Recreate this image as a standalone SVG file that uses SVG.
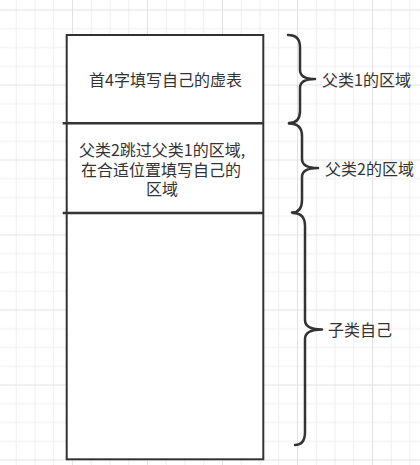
<svg xmlns="http://www.w3.org/2000/svg" width="420" height="465" viewBox="0 0 420 465">
  <defs>
    <pattern id="grid" patternUnits="userSpaceOnUse" x="72" y="9.5" width="75" height="75">
      <rect x="0" y="0" width="75" height="75" fill="#ffffff"/>
      <g fill="#f0f0f0">
        <rect x="18.75" y="0" width="1" height="75"/>
        <rect x="37.5" y="0" width="1" height="75"/>
        <rect x="56.25" y="0" width="1" height="75"/>
        <rect x="0" y="18.75" width="75" height="1"/>
        <rect x="0" y="37.5" width="75" height="1"/>
        <rect x="0" y="56.25" width="75" height="1"/>
      </g>
      <g fill="#e2e2e2">
        <rect x="0" y="0" width="1" height="75"/>
        <rect x="0" y="0" width="75" height="1"/>
      </g>
    </pattern>
  </defs>
  <style>
    .box { fill: #ffffff; stroke: #333333; stroke-width: 2; }
    .div { stroke: #333333; stroke-width: 2.6; fill: none; }
    .brace { fill: none; stroke: #333333; stroke-width: 2.5; stroke-linecap: round; stroke-linejoin: round; }
    .t { font-family: "Noto Sans CJK SC", "Noto Sans", sans-serif; font-size: 16px; fill: #333333; }
    .c { text-anchor: middle; }
  </style>
  <rect x="0" y="0" width="420" height="465" fill="url(#grid)"/>

  <g id="memory-block">
    <rect class="box" x="66.7" y="35" width="196.6" height="424.3"/>
  </g>

  <g id="connectors">
    <line class="div" x1="62.7" y1="123.3" x2="263" y2="123.3"/>
    <line class="div" x1="62.7" y1="213" x2="263" y2="213"/>
    <path class="brace" d="M288,35 Q300,35 300,47 L300,70 Q300,79 315,79 Q300,79 300,88 L300,111 Q300,123 289,123"/>
    <path class="brace" d="M289,123.5 Q302,123.5 302,136 L302,159 Q302,168 318,168 Q302,168 302,177 L302,200 Q302,212.5 292,212.5"/>
    <path class="brace" d="M293,213 Q305,213 305,226 L305,320 Q305,329.5 322,329.5 Q305,329.5 305,339 L305,432 Q305,445 295,445"/>
  </g>

  <g id="parent1-area">
    <text class="t c" x="165.5" y="86">首4字填写自己的虚表</text>
  </g>
  <g id="parent2-area">
    <text class="t c" x="162" y="156">父类2跳过父类1的区域,</text>
    <text class="t c" x="161" y="176">在合适位置填写自己的</text>
    <text class="t c" x="162" y="195">区域</text>
  </g>
  <g id="label-parent1">
    <text class="t" x="322" y="86">父类1的区域</text>
  </g>
  <g id="label-parent2">
    <text class="t" x="325" y="175">父类2的区域</text>
  </g>
  <g id="label-child">
    <text class="t" x="328" y="336">子类自己</text>
  </g>
</svg>
